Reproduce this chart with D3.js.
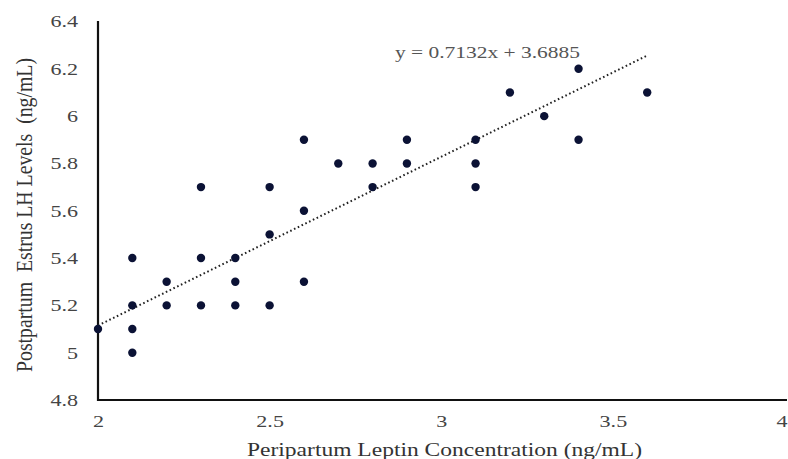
<!DOCTYPE html>
<html><head><meta charset="utf-8">
<script src="https://cdn.jsdelivr.net/npm/d3@7"></script>
<style>body{margin:0;background:#fff}svg{display:block}</style>
</head><body><svg id="c" width="788" height="459"></svg>
<script>
const xVals = [2.0,2.1,2.1,2.1,2.1,2.2,2.2,2.3,2.3,2.3,2.4,2.4,2.4,2.5,2.5,2.5,2.6,2.6,2.6,2.7,2.8,2.8,2.9,2.9,3.1,3.1,3.1,3.2,3.3,3.4,3.4,3.6];
const yVals = [5.1,5.4,5.2,5.1,5.0,5.3,5.2,5.7,5.4,5.2,5.4,5.3,5.2,5.7,5.5,5.2,5.9,5.6,5.3,5.8,5.8,5.7,5.9,5.8,5.9,5.8,5.7,6.1,6.0,6.2,5.9,6.1];
const xTicks = [2,2.5,3,3.5,4];
const xTickLabels = ["2","2.5","3","3.5","4"];
const yTicks = [4.8,5,5.2,5.4,5.6,5.8,6,6.2,6.4];
const yTickLabels = ["4.8","5","5.2","5.4","5.6","5.8","6","6.2","6.4"];
const slope = 0.7132, intercept = 3.6885;
const trendRange = [2.0, 3.6];
const eqText = "y = 0.7132x + 3.6885";
const xTitle = "Peripartum Leptin Concentration (ng/mL)";
const yTitle = "Postpartum  Estrus LH Levels  (ng/mL)";

const svg = d3.select("#c");
const x = d3.scaleLinear().domain([2,4]).range([98,784.5]);
const y = d3.scaleLinear().domain([4.8,6.4]).range([400,21.5]);
const font = "'Liberation Serif','Times New Roman',serif";
const sx = 1.3;

// axes
const xAxis = d3.axisBottom(x).tickValues(xTicks).tickFormat((d,i)=>xTickLabels[i]).tickSize(0).tickPadding(15);
const gx = svg.append("g").attr("transform","translate(0,400)").call(xAxis);
gx.select(".domain").attr("d","M98,0H787").attr("stroke","#111").attr("stroke-width",2.2);
gx.selectAll("text").attr("font-family",font).attr("font-size",17).attr("fill","#444")
  .attr("transform",`scale(${sx},1)`);
// keep the last label inside the window
gx.selectAll(".tick").filter(d=>d===4).select("text")
  .attr("text-anchor","end").attr("x",(787-x(4))/sx);

const yAxis = d3.axisLeft(y).tickValues(yTicks).tickFormat((d,i)=>yTickLabels[i]).tickSize(0).tickPadding(20);
const gy = svg.append("g").attr("transform","translate(98,0)").call(yAxis);
gy.select(".domain").attr("d","M0,21V401").attr("stroke","#111").attr("stroke-width",2.2);
gy.selectAll("text").attr("font-family",font).attr("font-size",17).attr("fill","#444")
  .attr("x",-20/sx).attr("transform",`scale(${sx},1)`);

// trendline
svg.append("line")
  .attr("x1",x(trendRange[0])).attr("y1",y(slope*trendRange[0]+intercept))
  .attr("x2",x(trendRange[1])).attr("y2",y(slope*trendRange[1]+intercept))
  .attr("stroke","#222").attr("stroke-width",2).attr("stroke-dasharray","1.6,2.6");

// points
svg.append("g").selectAll("circle").data(xVals).join("circle")
  .attr("cx",(d)=>x(d)).attr("cy",(d,i)=>y(yVals[i])).attr("r",4.2)
  .attr("fill","#0b1235");

// equation
svg.append("text").attr("x",395).attr("y",57.5).attr("font-family",font).attr("font-size",16)
  .attr("fill","#555").attr("textLength",185).attr("lengthAdjust","spacingAndGlyphs").text(eqText);

// titles
svg.append("text").attr("x",444.5).attr("y",456).attr("text-anchor","middle")
  .attr("font-family",font).attr("font-size",19).attr("fill","#333")
  .attr("textLength",395).attr("lengthAdjust","spacingAndGlyphs").text(xTitle);
svg.append("text").attr("transform","translate(32,215) scale(1.2,1) rotate(-90)").attr("text-anchor","middle")
  .attr("font-family",font).attr("font-size",19).attr("fill","#333")
  .attr("textLength",314).attr("lengthAdjust","spacingAndGlyphs")
  .style("white-space","pre").text(yTitle);
</script></body></html>
